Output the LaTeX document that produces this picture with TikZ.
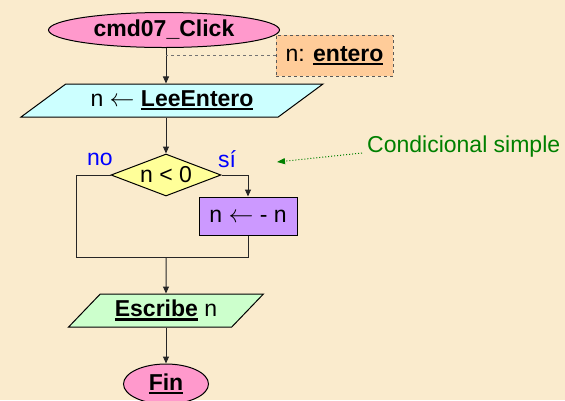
\documentclass[tikz,border=0pt]{standalone}
\usepackage{fontspec}
\setmainfont{Liberation Sans}
\usepackage{tikz}
\usetikzlibrary{positioning, arrows.meta, shapes.geometric, calc}
\definecolor{fondo}{RGB}{250,235,205}
\definecolor{rosa}{RGB}{255,153,204}
\definecolor{celeste}{RGB}{204,255,255}
\definecolor{amarillo}{RGB}{255,255,153}
\definecolor{lila}{RGB}{204,153,255}
\definecolor{verdeclaro}{RGB}{204,255,204}
\definecolor{naranja}{RGB}{255,204,153}
\definecolor{verde}{RGB}{0,128,0}
\newcommand{\subr}[1]{\setbox0\hbox{#1}\leavevmode\rlap{\vrule height -1.5pt depth 4pt width \wd0}\box0\relax}
\tikzset{
  terminal/.style={draw, ellipse, fill=rosa, inner sep=0pt, line width=1pt},
  io/.style      ={draw, trapezium, trapezium stretches=true, inner sep=0pt,
                   minimum height=33pt, line width=1pt},
  proceso/.style ={draw, rectangle, fill=lila, inner sep=0pt, line width=1pt},
  decision/.style={draw, diamond, fill=amarillo, inner sep=0pt, aspect=2.6,
                   minimum width=110pt, minimum height=42pt, line width=1pt},
  nota/.style    ={draw=black!65, dashed, fill=naranja, inner sep=0pt, line width=1pt},
  flow/.style    ={-{Triangle[length=7pt, width=6pt]}, line width=1pt, black!85},
  linea/.style   ={line width=1pt, black!85},
  aux/.style     ={dashed, line width=1pt, black!55},
  rama/.style    ={text=blue, inner sep=0pt},
  lbl/.style     ={text=verde, inner sep=0pt, anchor=west},
}

\begin{document}
\begin{tikzpicture}[x=1pt, y=-1pt, font=\fontsize{23}{27}\selectfont]
  \fill[fondo] (0,0) rectangle (565,400);
  \useasboundingbox (0,0) rectangle (565,400);

  \node[terminal, minimum width=231pt, minimum height=35pt] (ini) at (164,30) {\textbf{cmd07\_Click}};
  \node[nota, minimum width=117pt, minimum height=41pt] (tipo) at (334.5,55.5) {n: \subr{\textbf{entero}}};
  \node[io, fill=celeste, minimum width=303pt, trapezium left angle=30, trapezium right angle=150] (lee) at (172,100.5) {n $\leftarrow$ \subr{\textbf{LeeEntero}}};
  \node[decision] (cond) at (166,175) {n < 0};
  \node[proceso, minimum width=98pt, minimum height=38pt] (neg) at (248,216) {n $\leftarrow$ - n};
  \coordinate (merge) at (166,257);
  \node[io, fill=verdeclaro, minimum width=195pt, trapezium left angle=40, trapezium right angle=140] (esc) at (166,310.5) {\subr{\textbf{Escribe}} n};
  \node[terminal, minimum width=85pt, minimum height=40pt] (fin) at (166,384) {\subr{\textbf{Fin}}};

  \node[rama] (no) at (100,159) {no};
  \node[rama] (si) at (227,159) {sí};
  \node[lbl] (comentario) at (367,147) {Condicional simple};
  \coordinate (punta) at (277,162);

  \draw[flow] (ini.south -| cond) -- (cond |- lee.north);
  \draw[aux] (tipo.west) -- (tipo.west -| cond);
  \draw[flow] (cond |- lee.south) -- (cond);
  \draw[flow] (cond.east) -| (neg.north);
  \draw[linea] (cond.west) -- ++(-34,0) |- (merge);
  \draw[linea] (neg.south) |- (merge);
  \draw[flow] (merge) -- (esc);
  \draw[flow] (esc) -- (fin);
  \draw[verde, dotted, line width=1pt, -{Triangle[length=8pt, width=6pt]}]
    ([shift={(-5pt,-6pt)}]comentario.west) -- (punta);
\end{tikzpicture}
\end{document}
